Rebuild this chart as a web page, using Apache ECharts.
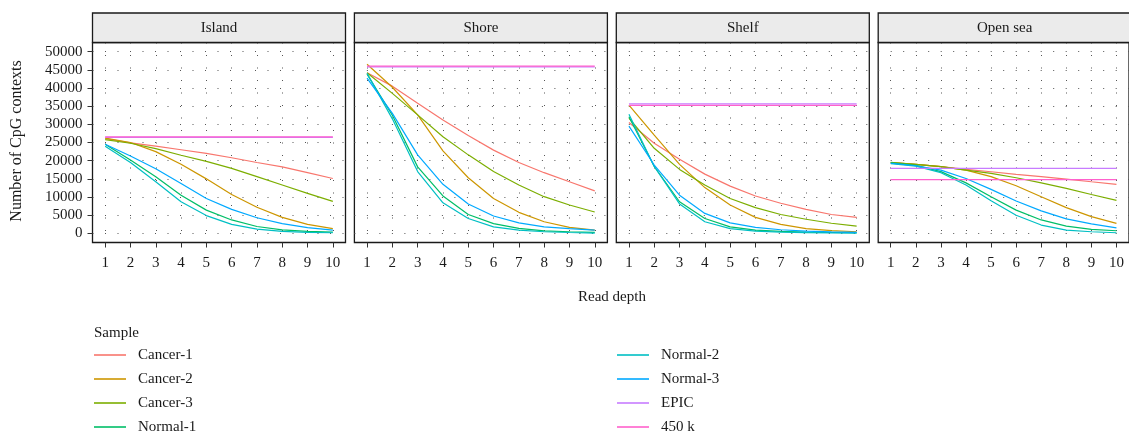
<!DOCTYPE html>
<html>
<head>
<meta charset="utf-8">
<script src="https://cdn.jsdelivr.net/npm/echarts@6/dist/echarts.min.js"></script>
<style>
  html, body { margin: 0; padding: 0; background: #fff; }
  #chart { width: 1129px; height: 433px; }
</style>
</head>
<body>
<div id="chart"></div>
<script>
// read depth on the x axis
var depth = [1, 2, 3, 4, 5, 6, 7, 8, 9, 10]
var regions = ['Island', 'Shore', 'Shelf', 'Open sea']
var samples = ['Cancer-1', 'Cancer-2', 'Cancer-3', 'Normal-1', 'Normal-2', 'Normal-3', 'EPIC', '450 k']
var colors = ['#F8766D', '#CD9600', '#7CAE00', '#00BE67', '#00BFC4', '#00A9FF', '#C77CFF', '#FF61CC']
var yTicks = [0, 5000, 10000, 15000, 20000, 25000, 30000, 35000, 40000, 45000, 50000]

// one row per sample, same order as samples
var island = [
    [26100, 24900, 24000, 23000, 22000, 20800, 19500, 18300, 16700, 15100],
    [26200, 25000, 22500, 19000, 15000, 10700, 7200, 4400, 2500, 1300],
    [25800, 24800, 23300, 21500, 19800, 17900, 15600, 13300, 11000, 8800],
    [24500, 20200, 15600, 10500, 6400, 3700, 1900, 950, 550, 370],
    [24000, 19500, 14200, 8700, 4900, 2500, 1200, 550, 300, 180],
    [24500, 21300, 17800, 13700, 9600, 6600, 4300, 2700, 1600, 900],
    [26400, 26400, 26400, 26400, 26400, 26400, 26400, 26400, 26400, 26400],
    [26550, 26550, 26550, 26550, 26550, 26550, 26550, 26550, 26550, 26550]
]
var shore = [
    [44200, 40500, 35800, 31200, 26900, 22900, 19500, 16700, 14200, 11700],
    [46500, 40200, 32600, 22700, 15300, 9600, 5800, 3200, 1650, 900],
    [44200, 38500, 32600, 26600, 21600, 17000, 13300, 10100, 7800, 5900],
    [43800, 32500, 18300, 10300, 5200, 2700, 1400, 700, 450, 300],
    [44000, 31500, 17000, 8400, 4100, 1800, 900, 450, 250, 100],
    [42700, 33000, 21600, 13500, 8100, 4800, 2900, 1800, 1300, 900],
    [45800, 45800, 45800, 45800, 45800, 45800, 45800, 45800, 45800, 45800],
    [46000, 46000, 46000, 46000, 46000, 46000, 46000, 46000, 46000, 46000]
]
var shelf = [
    [30500, 24800, 20400, 16300, 13000, 10300, 8300, 6600, 5200, 4400],
    [35300, 27000, 19000, 12600, 7800, 4400, 2500, 1300, 750, 450],
    [31700, 23400, 17600, 13300, 9600, 7100, 5200, 3900, 2800, 2000],
    [32100, 18400, 8700, 4100, 1800, 900, 550, 350, 250, 180],
    [32800, 18400, 8100, 3200, 1300, 650, 370, 200, 130, 90],
    [29500, 18800, 10500, 5500, 2900, 1650, 1000, 650, 400, 280],
    [35600, 35600, 35600, 35600, 35600, 35600, 35600, 35600, 35600, 35600],
    [35200, 35200, 35200, 35200, 35200, 35200, 35200, 35200, 35200, 35200]
]
var openSea = [
    [19450, 19000, 18350, 17600, 16950, 16250, 15600, 14950, 14200, 13500],
    [19500, 19000, 18350, 17400, 15600, 13100, 10100, 7100, 4600, 2750],
    [19550, 19000, 18350, 17400, 16500, 15300, 13900, 12400, 10700, 9100],
    [19400, 18700, 17000, 13900, 10100, 6400, 3700, 2000, 1100, 730],
    [19200, 18500, 16700, 13300, 9000, 5000, 2300, 900, 460, 180],
    [19300, 18600, 17400, 15100, 12100, 8900, 6200, 4000, 2600, 1500],
    [17900, 17900, 17900, 17900, 17900, 17900, 17900, 17900, 17900, 17900],
    [14800, 14800, 14800, 14800, 14800, 14800, 14800, 14800, 14800, 14800]
]
var panelData = [island, shore, shelf, openSea]

var font = 'Liberation Serif'
var lefts = [92.5, 354.4, 616.3, 878.2]
var gridW = 253
var gridTop = 42.5
var gridH = 200
var dots = { color: '#555', width: 1, type: [1, 11.5] }

let grids = []
let xAxes = []
let yAxes = []
let series = []
let graphics = []

for (let p = 0; p < regions.length; p++) {
    grids.push({
        left: lefts[p], top: gridTop, width: gridW, height: gridH,
        show: true, borderColor: '#1a1a1a', borderWidth: 1.3, backgroundColor: '#fff'
    })
    xAxes.push({
        type: 'value', gridIndex: p, min: 0.5, max: 10.5, interval: 0.5,
        axisLine: {show: false, onZero: false},
        axisTick: {show: true, customValues: depth, length: 5, lineStyle: {color: '#333'}},
        axisLabel: {customValues: depth, margin: 13, fontFamily: font, fontSize: 15, color: '#1a1a1a'},
        splitLine: {show: true, lineStyle: dots}
    })
    yAxes.push({
        type: 'value', gridIndex: p, min: -2500, max: 52500, interval: 2500,
        axisLine: {show: false, onZero: false},
        axisTick: {show: p === 0, customValues: yTicks, length: 5, lineStyle: {color: '#333'}},
        axisLabel: {
            show: p === 0, customValues: yTicks, margin: 10,
            fontFamily: font, fontSize: 15, color: '#1a1a1a',
            formatter: v => String(v)
        },
        splitLine: {show: true, lineStyle: dots}
    })
    // strip header
    graphics.push({
        type: 'rect', z: 10,
        shape: {x: lefts[p], y: 13, width: gridW, height: gridTop - 13},
        style: {fill: '#EBEBEB', stroke: '#1a1a1a', lineWidth: 1.3}
    })
    graphics.push({
        type: 'text', z: 11, x: lefts[p] + gridW / 2, y: 28,
        style: {text: regions[p], font: '15px "' + font + '"', fill: '#1a1a1a', align: 'center', verticalAlign: 'middle'}
    })
    for (let s = 0; s < samples.length; s++) {
        series.push({
            name: samples[s],
            type: 'line',
            xAxisIndex: p,
            yAxisIndex: p,
            data: depth.map((d, i) => [d, panelData[p][s][i]]),
            color: colors[s],
            symbol: 'none',
            lineStyle: {width: 1.2},
            animation: false
        })
    }
}

graphics.push({
    type: 'text', x: 17, y: 141, rotation: Math.PI / 2,
    style: {text: 'Number of CpG contexts', font: '16px "' + font + '"', fill: '#1a1a1a', align: 'center', verticalAlign: 'middle'}
})
graphics.push({
    type: 'text', x: 612, y: 297,
    style: {text: 'Read depth', font: '15px "' + font + '"', fill: '#1a1a1a', align: 'center', verticalAlign: 'middle'}
})
graphics.push({
    type: 'text', x: 94, y: 333,
    style: {text: 'Sample', font: '15px "' + font + '"', fill: '#1a1a1a', align: 'left', verticalAlign: 'middle'}
})

let legendBase = {
    orient: 'vertical', top: 343, height: 110, padding: 0, itemGap: 0,
    icon: 'rect', itemWidth: 32, itemHeight: 1.6, selectedMode: false,
    textStyle: {fontFamily: font, fontSize: 15, lineHeight: 24, color: '#1a1a1a', padding: [0, 0, 0, 7]}
}

let myChart = echarts.init(document.getElementById('chart'))
let option = {
    backgroundColor: '#fff',
    animation: false,
    grid: grids,
    xAxis: xAxes,
    yAxis: yAxes,
    legend: [
        Object.assign({left: 94, data: samples.slice(0, 4)}, legendBase),
        Object.assign({left: 617, data: samples.slice(4)}, legendBase)
    ],
    graphic: graphics,
    series: series
}
myChart.setOption(option)
</script>
</body>
</html>
